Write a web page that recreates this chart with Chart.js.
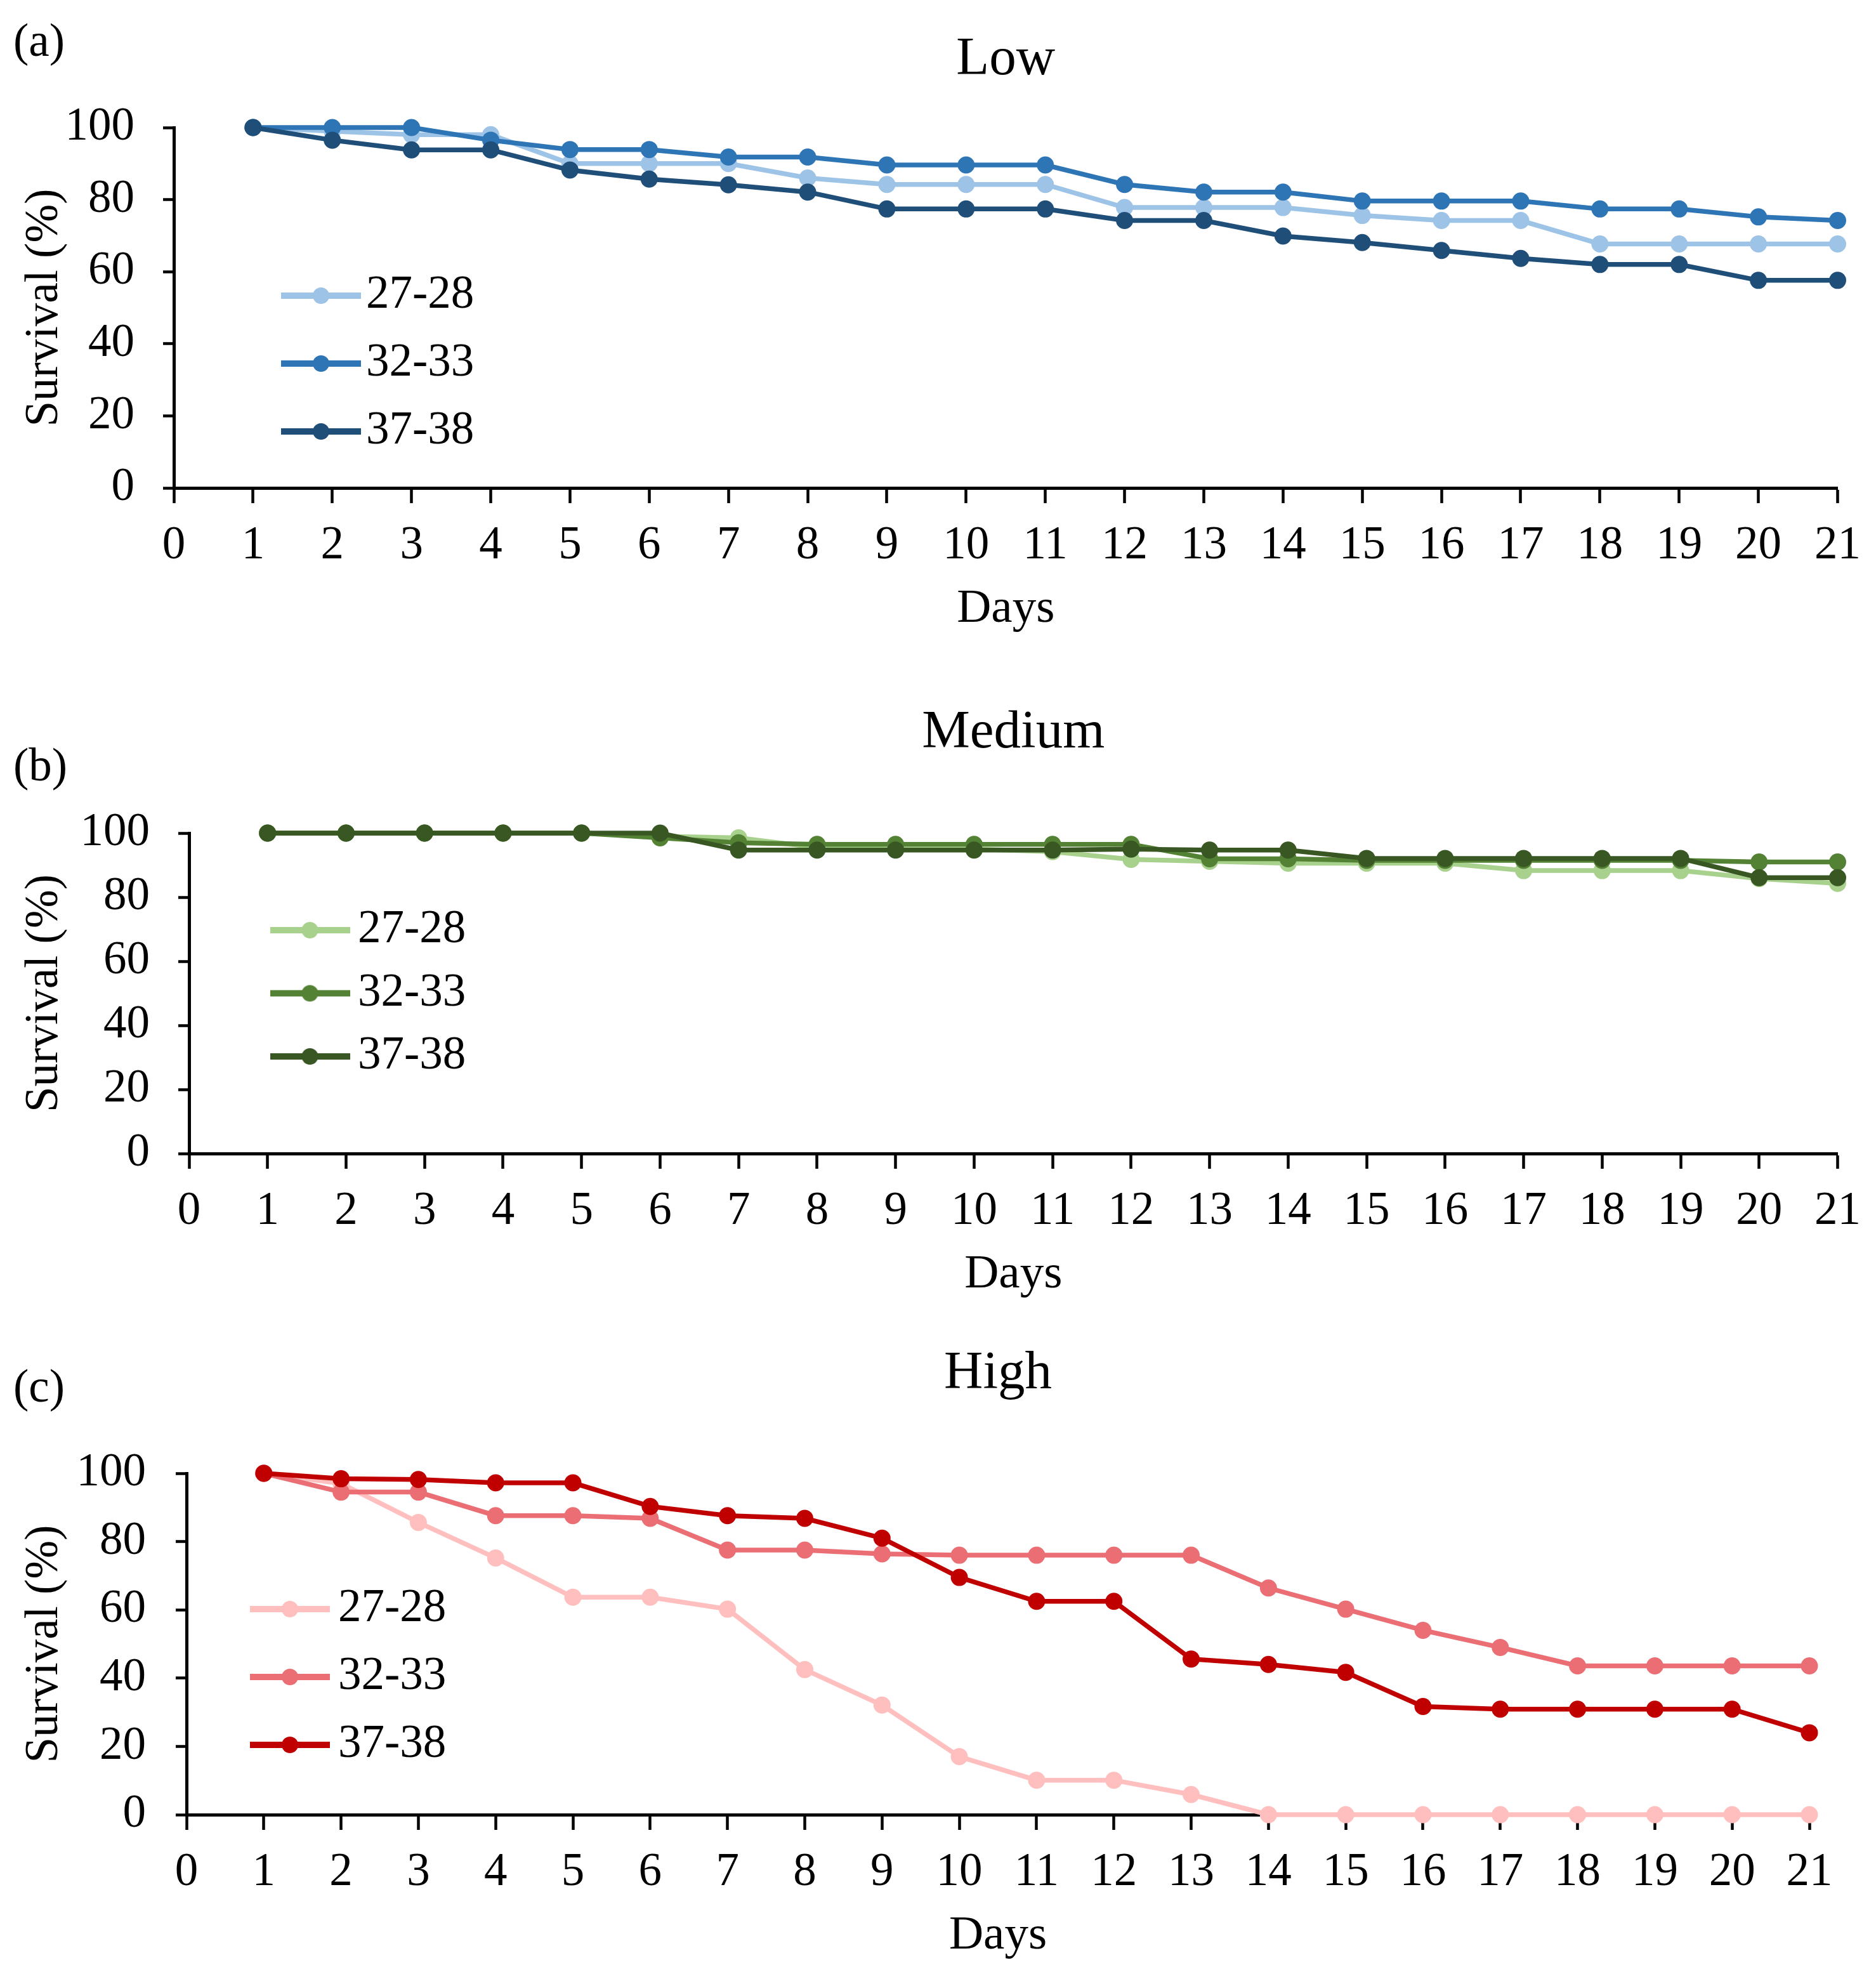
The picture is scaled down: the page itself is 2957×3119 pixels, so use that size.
<!DOCTYPE html>
<html>
<head>
<meta charset="utf-8">
<script src="https://cdn.jsdelivr.net/npm/chart.js@4.4.1/dist/chart.umd.min.js"></script>
<style>
html, body { margin: 0; padding: 0; background: #fff; }
body { width: 2957px; height: 3119px; position: relative; overflow: hidden; font-family: 'Liberation Serif', serif; }
.panel { position: absolute; left: 0; width: 2957px; }
.tag { position: absolute; left: 21px; font-size: 73px; line-height: 73px; color: #000; }
</style>
</head>
<body>
<div class="tag" style="top:27px">(a)</div>
<div class="tag" style="top:1169px">(b)</div>
<div class="tag" style="top:2148px">(c)</div>
<div class="panel" style="top:0px;height:1040px"><canvas id="low"></canvas></div>
<div class="panel" style="top:1040px;height:1040px"><canvas id="medium"></canvas></div>
<div class="panel" style="top:2080px;height:1039px"><canvas id="high"></canvas></div>
<script>
// days of the trial
const days = [1, 2, 3, 4, 5, 6, 7, 8, 9, 10, 11, 12, 13, 14, 15, 16, 17, 18, 19, 20, 21];
const seriesNames = ['27-28', '32-33', '37-38'];

// survival (%) - Low
const low27 = [100, 99, 98, 98, 90, 90, 90, 86, 84.2, 84.2, 84.2, 77.8, 77.8, 77.8, 75.6, 74.2, 74.2, 67.7, 67.7, 67.7, 67.7];
const low32 = [100, 100, 100, 96.5, 93.9, 93.9, 91.8, 91.8, 89.6, 89.6, 89.6, 84.2, 82.1, 82.1, 79.6, 79.6, 79.6, 77.4, 77.4, 75.2, 74.2];
const low37 = [100, 96.5, 93.8, 93.8, 88.2, 85.7, 84.1, 82.1, 77.4, 77.4, 77.4, 74.2, 74.2, 69.9, 68.1, 65.9, 63.7, 62.0, 62.0, 57.6, 57.6];

// survival (%) - Medium
const med27 = [100, 100, 100, 100, 100, 99, 98.5, 95.5, 95, 95, 94.2, 91.8, 91.2, 90.6, 90.6, 90.6, 88.3, 88.3, 88.3, 85.8, 84.3];
const med32 = [100, 100, 100, 100, 100, 98.5, 97, 96.5, 96.5, 96.5, 96.5, 96.5, 92, 92, 91.5, 91.5, 91.5, 91.5, 91.5, 91, 91];
const med37 = [100, 100, 100, 100, 100, 100, 94.7, 94.7, 94.7, 94.7, 94.7, 95, 94.7, 94.7, 92.1, 92.1, 92.1, 92.1, 92.1, 86.1, 86.1];

// survival (%) - High
const high27 = [100, 97, 85.6, 75.2, 63.7, 63.7, 60.2, 42.5, 32.1, 17.0, 10.1, 10.1, 5.9, 0, 0, 0, 0, 0, 0, 0, 0];
const high32 = [100, 94.5, 94.5, 87.6, 87.6, 86.8, 77.5, 77.5, 76.4, 76.0, 76.0, 76.0, 76.0, 66.4, 60.2, 54.0, 49.0, 43.6, 43.6, 43.6, 43.6];
const high37 = [100, 98.4, 98.2, 97.2, 97.2, 90.3, 87.6, 86.8, 81.0, 69.5, 62.5, 62.5, 45.6, 44.0, 41.7, 31.7, 30.9, 30.9, 30.9, 30.9, 24.0];

Chart.defaults.font.family = "'Liberation Serif', 'Times New Roman', serif";
Chart.defaults.color = '#000';

// line + dot sample for the legend
function legendMark(color) {
  const c = document.createElement('canvas');
  c.width = 126;
  c.height = 30;
  const g = c.getContext('2d');
  g.strokeStyle = color;
  g.lineWidth = 10;
  g.beginPath();
  g.moveTo(0, 15);
  g.lineTo(126, 15);
  g.stroke();
  g.fillStyle = color;
  g.beginPath();
  g.arc(63, 15, 13, 0, Math.PI * 2);
  g.fill();
  return c;
}

// put the legend box where it sits in the figure
const legendShift = {
  id: 'legendShift',
  afterLayout(chart, args, opts) {
    const lg = chart.legend;
    if (!lg) return;
    lg.left = opts.left;
    lg.top = opts.top;
    lg.right = opts.left + 600;
    lg.bottom = opts.top + 600;
  }
};

function makeChart(id, p) {
  new Chart(document.getElementById(id), {
    type: 'line',
    data: {
      labels: days,
      datasets: p.series.map((vals, i) => ({
        label: seriesNames[i],
        data: vals,
        borderColor: p.colors[i],
        backgroundColor: p.colors[i],
        borderWidth: 7.5,
        pointRadius: 13.5,
        pointHoverRadius: 13.5,
        pointBorderWidth: 0,
        tension: 0,
        clip: false,
        order: 3 - i
      }))
    },
    options: {
      responsive: true,
      maintainAspectRatio: false,
      animation: false,
      devicePixelRatio: 1,
      events: [],
      layout: { padding: { left: 0, right: p.padRight, top: 0, bottom: 0 } },
      plugins: {
        title: {
          display: true,
          fullSize: false,
          text: p.title,
          color: '#000',
          font: { size: 85, weight: 'normal' },
          padding: { top: p.titleTop, bottom: p.titleBottom }
        },
        legend: {
          position: 'chartArea',
          align: 'start',
          labels: {
            usePointStyle: true,
            pointStyleWidth: p.boxW,
            padding: p.legendPad,
            color: '#000',
            font: { size: 73 },
            generateLabels: chart => chart.data.datasets.map((ds, i) => ({
              text: ds.label,
              pointStyle: legendMark(ds.borderColor),
              fillStyle: ds.borderColor,
              strokeStyle: ds.borderColor,
              lineWidth: 0,
              hidden: false,
              datasetIndex: i
            }))
          }
        },
        tooltip: { enabled: false },
        legendShift: { left: p.legendLeft, top: p.legendTop }
      },
      scales: {
        x: {
          type: 'linear',
          min: 0,
          max: 21,
          ticks: { stepSize: 1, padding: 24, autoSkip: false, maxRotation: 0, color: '#000', font: { size: 73 } },
          grid: { drawOnChartArea: false, drawTicks: true, tickLength: 24, tickWidth: 4.5, tickColor: '#000' },
          border: { display: true, color: '#000', width: 5 },
          title: { display: true, text: 'Days', color: '#000', font: { size: 75 }, padding: { top: 0, bottom: p.daysBottom } },
          afterFit: s => { s.height = p.xHeight; }
        },
        y: {
          min: 0,
          max: 100,
          ticks: { stepSize: 20, padding: p.yPad, color: '#000', font: { size: 73 } },
          grid: { drawOnChartArea: false, drawTicks: true, tickLength: 17, tickWidth: 4.5, tickColor: '#000' },
          border: { display: true, color: '#000', width: 5 },
          title: { display: true, text: 'Survival (%)', color: '#000', font: { size: 73 }, padding: { top: 27, bottom: 0 } },
          afterFit: s => { s.width = p.yWidth; }
        }
      }
    },
    plugins: [legendShift]
  });
}

makeChart('low', {
  title: 'Low',
  series: [low27, low32, low37],
  colors: ['#9DC3E6', '#2E75B6', '#1F4E79'],
  padRight: 39, titleTop: 44, titleBottom: 55,
  xHeight: 271, daysBottom: 35, yWidth: 274, yPad: 45,
  boxW: 69, legendPad: 34, legendLeft: 437.5, legendTop: 395.5
});

makeChart('medium', {
  title: 'Medium',
  series: [med27, med32, med37],
  colors: ['#A9D18E', '#548235', '#385723'],
  padRight: 42, titleTop: 65, titleBottom: 106,
  xHeight: 262, daysBottom: 26, yWidth: 298, yPad: 45,
  boxW: 78, legendPad: 26.5, legendLeft: 423, legendTop: 363
});

makeChart('high', {
  title: 'High',
  series: [high27, high32, high37],
  colors: ['#FFBFBF', '#EA6E73', '#C00000'],
  padRight: 105, titleTop: 35, titleBottom: 105,
  xHeight: 259, daysBottom: 23, yWidth: 294, yPad: 47,
  boxW: 79, legendPad: 34, legendLeft: 383.5, legendTop: 385.5
});
</script>
</body>
</html>
